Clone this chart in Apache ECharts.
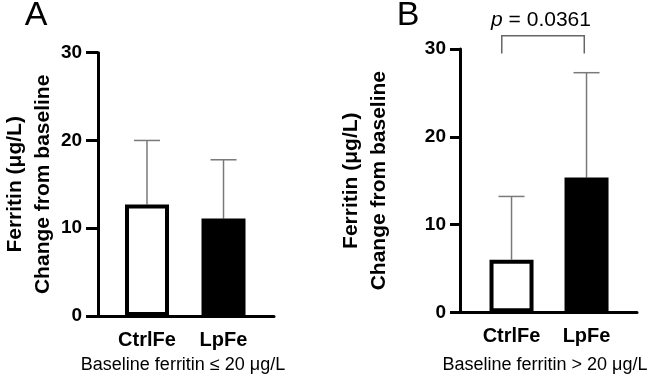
<!DOCTYPE html>
<html><head><meta charset="utf-8">
<script src="https://cdn.jsdelivr.net/npm/echarts@6/dist/echarts.min.js"></script>
<style>html,body{margin:0;padding:0;background:#fff}#c{width:650px;height:375px}</style>
</head><body><div id="c"></div>
<script>
// ---- data ----
const categories = ['CtrlFe', 'LpFe'];
const positions = [1, 2];
const meanA = [12.7, 11.1];
const sdA = [7.3, 6.7];
const meanB = [6.0, 15.35];
const sdB = [7.2, 11.95];
const yName = 'Ferritin (\u03bcg/L)\nChange from baseline';
const panelLabels = ['A', 'B'];
const subtitleA = 'Baseline ferritin \u2264 20 \u03bcg/L';
const subtitleB = 'Baseline ferritin > 20 \u03bcg/L';
const pValue = '0.0361';
const bracketX = [0.87, 1.97];
const bracketY = [29.5, 31.5];
const fills = ['#ffffff', '#000000'];

const FONT = "'Liberation Sans', Arial, sans-serif";
const chart = echarts.init(document.getElementById('c'), null, {renderer: 'canvas'});

function xAxisCfg(idx, min, max) {
  return {
    type: 'value', gridIndex: idx, min: min, max: max,
    axisLine: {show: true, onZero: false, lineStyle: {color: '#000', width: 3}},
    axisTick: {show: false},
    splitLine: {show: false},
    axisLabel: {
      customValues: positions,
      formatter: v => categories[positions.indexOf(v)] || '',
      color: '#000', fontFamily: FONT, fontWeight: 'bold', fontSize: 20, margin: 14
    }
  };
}
function yAxisCfg(idx, gap, tickLen) {
  return {
    type: 'value', gridIndex: idx, min: 0, max: 30, interval: 10,
    axisLine: {show: true, lineStyle: {color: '#000', width: 3}},
    axisTick: {show: true, length: tickLen, lineStyle: {color: '#000', width: 3}},
    splitLine: {show: false},
    axisLabel: {color: '#000', fontFamily: FONT, fontWeight: 'bold', fontSize: 19, margin: tickLen + 4},
    name: yName, nameLocation: 'middle', nameGap: gap, nameRotate: 90,
    nameTextStyle: {color: '#000', fontFamily: FONT, fontWeight: 'bold', fontSize: 21, lineHeight: 28}
  };
}
function barSeries(idx, means) {
  return {
    type: 'bar', xAxisIndex: idx, yAxisIndex: idx, barWidth: 44, z: 3,
    itemStyle: {borderColor: '#000', borderWidth: 4},
    data: positions.map((x, i) => ({value: [x, means[i]], itemStyle: {color: fills[i]}}))
  };
}
function errSeries(idx, means, sds) {
  return {
    type: 'custom', xAxisIndex: idx, yAxisIndex: idx, z: 2, clip: false,
    encode: {x: 0, y: [1, 2]},
    data: positions.map((x, i) => [x, means[i], means[i] + sds[i]]),
    renderItem: function (params, api) {
      const p0 = api.coord([api.value(0), api.value(1)]);
      const p1 = api.coord([api.value(0), api.value(2)]);
      const st = {stroke: '#7a7a7a', lineWidth: 1.5};
      return {type: 'group', children: [
        {type: 'line', shape: {x1: p0[0], y1: p0[1], x2: p1[0], y2: p1[1]}, style: st},
        {type: 'line', shape: {x1: p1[0] - 13, y1: p1[1], x2: p1[0] + 13, y2: p1[1]}, style: st}
      ]};
    }
  };
}

const option = {
  backgroundColor: '#fff',
  animation: false,
  grid: [
    {left: 98, top: 52.7, width: 176, height: 263.3},
    {left: 460, top: 49, width: 177, height: 263.3}
  ],
  xAxis: [xAxisCfg(0, 0.36, 2.66), xAxisCfg(1, 0.313, 2.673)],
  yAxis: [yAxisCfg(0, 40, 12), yAxisCfg(1, 67, 10)],
  series: [
    barSeries(0, meanA),
    errSeries(0, meanA, sdA),
    barSeries(1, meanB),
    errSeries(1, meanB, sdB),
    {
      type: 'custom', xAxisIndex: 1, yAxisIndex: 1, clip: false, z: 4,
      data: [[bracketX[0], bracketX[1], bracketY[0], bracketY[1]]],
      renderItem: function (params, api) {
        const a = api.coord([api.value(0), api.value(2)]);
        const b = api.coord([api.value(0), api.value(3)]);
        const c = api.coord([api.value(1), api.value(3)]);
        const d = api.coord([api.value(1), api.value(2)]);
        const mid = (b[0] + c[0]) / 2;
        return {type: 'group', children: [
          {type: 'polyline', shape: {points: [a, b, c, d]}, style: {stroke: '#666', lineWidth: 1.5, fill: null}},
          {type: 'text', x: mid - 2, y: b[1] - 16, style: {
            text: '{i|p} = ' + pValue, align: 'center', verticalAlign: 'middle',
            fontFamily: FONT, fontSize: 21, fill: '#000',
            rich: {i: {fontStyle: 'italic', fontFamily: FONT, fontSize: 21, fill: '#000'}}
          }}
        ]};
      }
    }
  ],
  graphic: [
    {type: 'text', x: 36, y: 16, style: {text: panelLabels[0], align: 'center', verticalAlign: 'middle', fontFamily: FONT, fontSize: 34, fill: '#000'}},
    {type: 'text', x: 408, y: 16, style: {text: panelLabels[1], align: 'center', verticalAlign: 'middle', fontFamily: FONT, fontSize: 34, fill: '#000'}},
    {type: 'text', x: 183, y: 365, style: {text: subtitleA, align: 'center', verticalAlign: 'middle', fontFamily: FONT, fontSize: 18, fill: '#000'}},
    {type: 'text', x: 545, y: 365, style: {text: subtitleB, align: 'center', verticalAlign: 'middle', fontFamily: FONT, fontSize: 18, fill: '#000'}}
  ]
};
chart.setOption(option);
</script>
</body></html>
